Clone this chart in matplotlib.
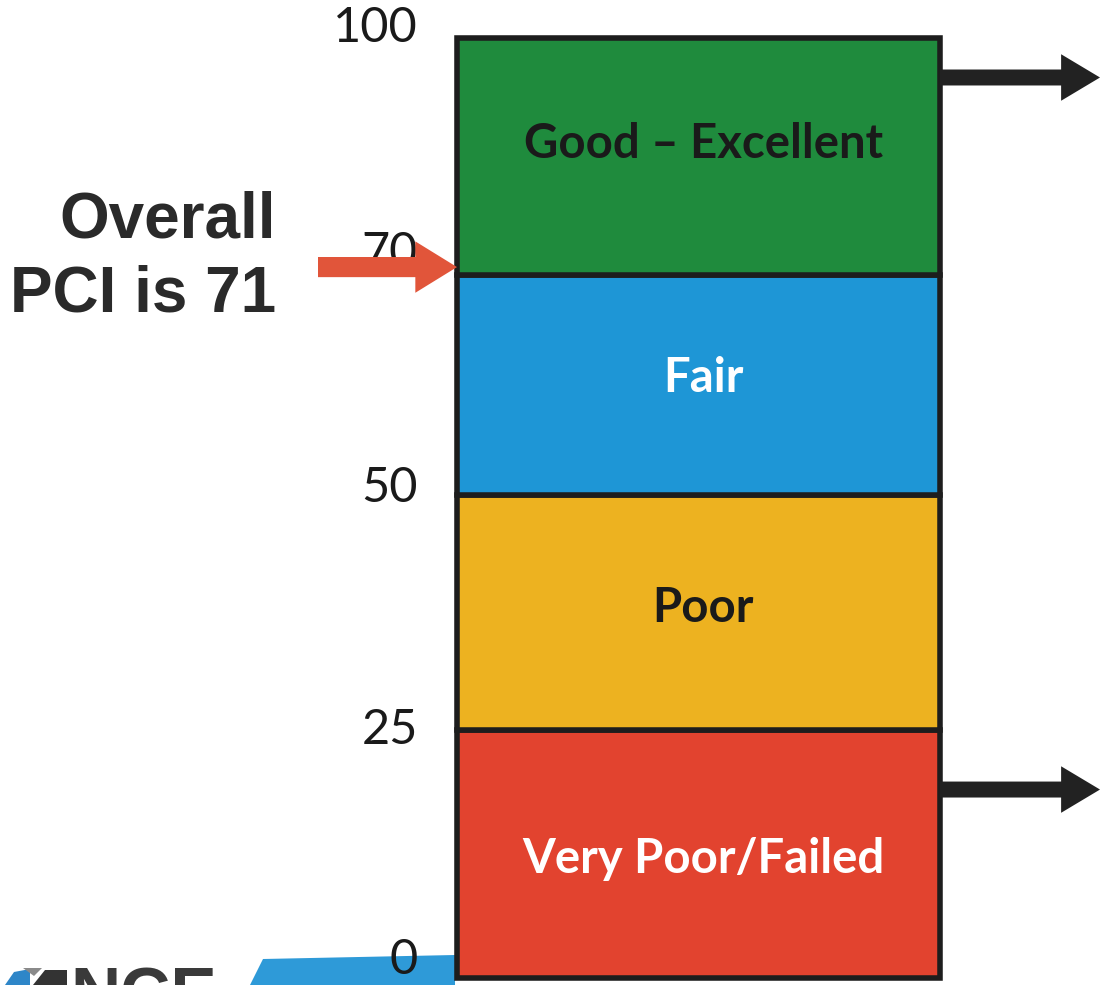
import numpy as np
import matplotlib
matplotlib.use("Agg")
import matplotlib.pyplot as plt
import matplotlib.transforms as mtrans
from matplotlib.patches import Polygon

# ---- data ----
categories = ["Very Poor/Failed", "Poor", "Fair", "Good \u2013 Excellent"]
lower_bounds = [0, 25, 50, 70]
upper_bounds = [25, 50, 70, 100]
tick_values = [0, 25, 50, 70, 100]
tick_labels = ["0", "25", "50", "70", "100"]
overall_pci = 71
overall_lines = ["Overall", "PCI is 71"]
arrow_values = [95, 19]

# ---- style ----
seg_colors = ["#E2432F", "#EDB220", "#1E96D6", "#1F8B3D"]
text_colors = ["white", "#1a1a1a", "white", "#1a1a1a"]
label_shift_px = [-5, 5, 7, 12]          # vertical nudge of segment labels
tick_shift_px = [18, 0, 7, 22, 10]       # vertical nudge of tick labels
edge = "#1d1d1d"

# display scale (segments drawn with the reference's uneven spacing)
scale_vals = [0, 25, 50, 70, 100]
scale_pos = [0.0, 0.2638, 0.5138, 0.7479, 1.0]
fwd = lambda v: np.interp(v, scale_vals, scale_pos)
inv = lambda p: np.interp(p, scale_pos, scale_vals)

W, H = 1102, 985
fig = plt.figure(figsize=(W / 100, H / 100), dpi=100)
ax = fig.add_axes([457 / W, 1 - 978 / H, 483 / W, 940 / H])
ax.set_yscale("function", functions=(fwd, inv))
ax.set_ylim(0, 100)
ax.set_xlim(-0.5, 0.5)

def shift(px):
    return mtrans.ScaledTranslation(0, px / 100, fig.dpi_scale_trans)

for cat, lo, hi, c, tc, sh in zip(categories, lower_bounds, upper_bounds,
                                  seg_colors, text_colors, label_shift_px):
    ax.bar(0, hi - lo, bottom=lo, width=1, color=c, edgecolor=edge, linewidth=4,
           clip_on=False, zorder=2)
    mid = inv((fwd(lo) + fwd(hi)) / 2)
    ax.text(0.01, mid, cat, ha="center", va="center", color=tc, fontsize=34,
            fontweight="bold", family=["Lato", "DejaVu Sans"], zorder=3,
            transform=ax.transData + shift(sh))

for s in ax.spines.values():
    s.set_visible(False)
ax.set_xticks([])
ax.set_yticks(tick_values)
ax.set_yticklabels(tick_labels)
ax.tick_params(axis="y", length=0, pad=28, labelsize=35, labelcolor="#1a1a1a")
for lab, sh in zip(ax.get_yticklabels(), tick_shift_px):
    lab.set_family(["Lato", "DejaVu Sans"])
    lab.set_va("center")
    lab.set_transform(lab.get_transform() + shift(sh))

# overall PCI arrow
ax.annotate("", xy=(0.0, overall_pci), xytext=(-139 / 483, overall_pci),
            xycoords=("axes fraction", "data"), textcoords=("axes fraction", "data"),
            arrowprops=dict(arrowstyle="simple,head_length=0.6,head_width=0.74,tail_width=0.29",
                            color="#E1553A", lw=0, shrinkA=0, shrinkB=0,
                            mutation_scale=50), annotation_clip=False, zorder=5)
for line, base_y in zip(overall_lines, [237, 312]):
    fig.text(276 / W, 1 - base_y / H, line, ha="right", va="baseline", fontsize=46,
             fontweight="bold", family=["Liberation Sans", "DejaVu Sans"], color="#2a2a2a")

# black arrows on the right
for v in arrow_values:
    ax.annotate("", xy=(1 + 160 / 483, v), xytext=(1.0, v),
                xycoords=("axes fraction", "data"), textcoords=("axes fraction", "data"),
                arrowprops=dict(arrowstyle="simple,head_length=0.56,head_width=0.67,tail_width=0.23",
                                color="#222222", lw=0, shrinkA=0, shrinkB=0,
                                mutation_scale=50), annotation_clip=False, zorder=5)

# partial logo at bottom left (behind the axes)
def fpoly(pts, color):
    fig.patches.append(Polygon([(x / W, 1 - y / H) for x, y in pts], closed=True,
                               transform=fig.transFigure, facecolor=color,
                               edgecolor="none", zorder=-1))

fpoly([(263, 959), (455, 955), (455, 985), (250, 985)], "#2E9AD8")
fpoly([(5, 985), (14, 972), (30, 969), (30, 985)], "#2E86C8")
fpoly([(23, 968), (42, 968), (34, 976)], "#8a8a8a")
fpoly([(33, 985), (45, 970), (67, 970), (67, 985)], "#333333")
fig.text(70 / W, 1 - 966 / H, "NCE", ha="left", va="top", fontsize=50, fontweight="bold",
         family=["Liberation Sans", "DejaVu Sans"], color="#3a3a3a", zorder=-1)

fig.savefig("out.png", dpi=100)
